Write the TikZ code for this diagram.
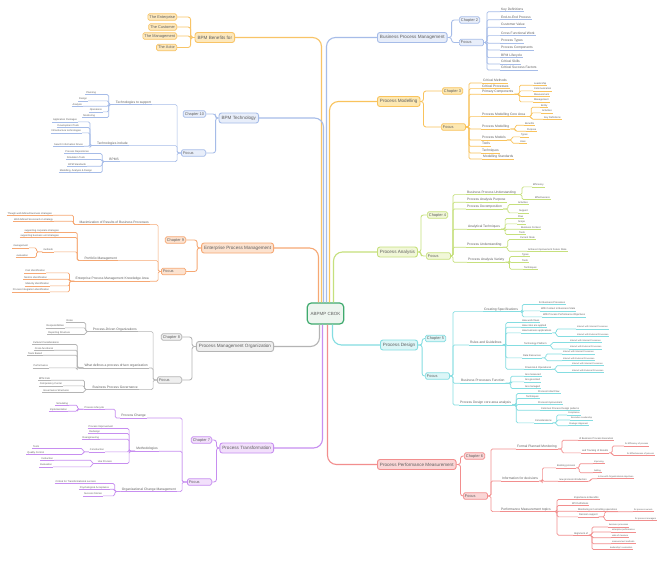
\documentclass[tikz,border=0pt]{standalone}
\usepackage{fontspec}
\setsansfont{Liberation Sans}
\definecolor{txt}{HTML}{5E5E5E}
\definecolor{bc}{HTML}{999999}
\definecolor{bf}{HTML}{EEEEEE}
\definecolor{cBlue}{HTML}{A6BCE8}\definecolor{fBlue}{HTML}{E8EEFA}
\definecolor{cOra}{HTML}{F8C467}\definecolor{fOra}{HTML}{FDE8BC}
\definecolor{cSal}{HTML}{F6A874}\definecolor{fSal}{HTML}{FCE2CF}
\definecolor{cGra}{HTML}{B4B4B4}\definecolor{fGra}{HTML}{EFEFEF}
\definecolor{cPur}{HTML}{C78EF0}\definecolor{fPur}{HTML}{F2E0FB}
\definecolor{cYel}{HTML}{F9C35C}\definecolor{fYel}{HTML}{FDE8B2}
\definecolor{cGrn}{HTML}{C6E07C}\definecolor{fGrn}{HTML}{F1F7D8}
\definecolor{cCya}{HTML}{84DDE1}\definecolor{fCya}{HTML}{DCF6F7}
\definecolor{cRed}{HTML}{F28E8E}\definecolor{fRed}{HTML}{FAD6D6}
\definecolor{cCen}{HTML}{3FAA6E}\definecolor{fCen}{HTML}{EDF5EF}
\tikzset{
 every node/.style={text=txt,font=\sffamily},
 mainbox/.style={draw=bc,fill=bf,rounded corners=2.5pt,line width=0.9pt,font=\sffamily\fontsize{4.6}{5}\selectfont,inner xsep=2.5pt,inner ysep=0pt,minimum height=10pt},
 subbox/.style={draw=bc,fill=bf,rounded corners=1.5pt,line width=0.7pt,font=\sffamily\fontsize{3.9}{4.2}\selectfont,inner xsep=1.6pt,inner ysep=0pt,minimum height=6.5pt},
 focusbox/.style={subbox,text width=21pt,align=left},
 ulin/.style={append after command={(\tikzlastnode.south west) edge[draw=bc,line width=0.7pt] (\tikzlastnode.south east)}},
 tA/.style={ulin,font=\sffamily\fontsize{3.3}{3.6}\selectfont,inner xsep=1pt,inner ysep=0.6pt,text height=2.4pt,text depth=0.6pt},
 tB/.style={ulin,font=\sffamily\fontsize{2.5}{2.8}\selectfont,inner xsep=0.8pt,inner ysep=0.5pt,text height=1.85pt,text depth=0.45pt},
 tC/.style={ulin,font=\sffamily\fontsize{2.2}{2.5}\selectfont,inner xsep=0.8pt,inner ysep=0.5pt,text height=1.6pt,text depth=0.4pt},
 rA/.style={tA,anchor=west}, lA/.style={tA,anchor=east},
 rB/.style={tB,anchor=west}, lB/.style={tB,anchor=east},
 rC/.style={tC,anchor=west}, lC/.style={tC,anchor=east},
 conM/.style={draw=bc,line width=1.1pt,rounded corners=9pt},
 conS/.style={draw=bc,line width=0.85pt,rounded corners=2.5pt},
 conL/.style={draw=bc,line width=0.7pt,rounded corners=1.5pt},
}
\begin{document}
\begin{tikzpicture}[x=1pt,y=-1pt]
\useasboundingbox (0,0) rectangle (667,563);
\fill[white] (0,0) rectangle (667,563);

\node[draw=cCen,fill=fCen,line width=1.2pt,rounded corners=4pt,minimum width=35pt,minimum height=21pt,font=\sffamily\fontsize{4.5}{5}\selectfont] (c) at (325.5,313.5) {ABPMP CBOK};

%================ Business Process Management
\begin{scope}
\colorlet{bc}{cBlue}\colorlet{bf}{fBlue}
\node[mainbox,anchor=west] (bpm) at (377,37.5) {Business Process Management};
\node[subbox,anchor=west] (bpmch) at (459,20) {Chapter 2};
\node[focusbox,anchor=west] (bpmfo) at (459,42.5) {Focus};
\node[rA] (bpm1) at (500,9.5) {Key Definitions};
\node[rA] (bpm2) at (500,17.5) {End-to-End Process};
\node[rA] (bpm3) at (500,25) {Customer Value};
\node[rA] (bpm4) at (500,33.3) {Cross Functional Work};
\node[rA] (bpm5) at (500,41) {Process Types};
\node[rA] (bpm6) at (500,47.7) {Process Components};
\node[rA] (bpm7) at (500,55.3) {BPM Lifecycle};
\node[rA] (bpm8) at (500,61.7) {Critical Skills};
\node[rA] (bpm9) at (500,67.7) {Critical Success Factors};
\draw[conM] ([xshift=1pt]c.north) |- (bpm.west);
\draw[conS] (bpm.east) -- ++(4,0) |- (bpmch.west);
\draw[conS] (bpm.east) -- ++(4,0) |- (bpmfo.west);
\foreach \i in {1,...,9} {\draw[conL] (bpmfo.east) -- ++(3,0) |- (bpm\i.south west);}
\end{scope}

%================ Process Modelling
\begin{scope}
\colorlet{bc}{cYel}\colorlet{bf}{fYel}
\node[mainbox,anchor=west] (mod) at (377,101.5) {Process Modelling};
\node[subbox,anchor=west] (modch) at (442,91) {Chapter 3};
\node[focusbox,anchor=west] (modfo) at (441,127) {Focus};
\node[rA] (m1) at (482,80.7) {Critical Methods};
\node[rA] (m2) at (481,86.3) {Critical Processes};
\node[rA] (m3) at (481,92) {Primary Components};
\node[rA] (m4) at (481,114.3) {Process Modelling Core Area};
\node[rA] (m5) at (481,126.7) {Process Modelling};
\node[rA] (m6) at (481,137.7) {Process Models};
\node[rA] (m7) at (481,144) {Tools};
\node[rA] (m8) at (481,150.7) {Techniques};
\node[rA] (m9) at (482,156.7) {Modelling Standards};
\node[rB] (m3a) at (533,83.3) {Leadership};
\node[rB] (m3b) at (533,89) {Communication};
\node[rB] (m3c) at (533,94.7) {Measurement};
\node[rB] (m3d) at (533,100) {Management};
\node[rB] (m4a) at (540,105.3) {Entity};
\node[rB] (m4b) at (541,111) {Activities};
\node[rB] (m4c) at (543,117.3) {Key Definitions};
\node[rB] (m5a) at (524,123.3) {Benefits};
\node[rB] (m5b) at (526,129.3) {Purpose};
\node[rB] (m6a) at (520,135) {Types};
\node[rB] (m6b) at (519,141.3) {Uses};
\draw[conM] ([xshift=4pt]c.north) |- (mod.west);
\draw[conS] (mod.east) -- ++(3,0) |- (modch.west);
\draw[conS] (mod.east) -- ++(3,0) |- (modfo.west);
\foreach \i in {1,...,9} {\draw[conL] (modfo.east) -- ++(3,0) |- (m\i.south west);}
\foreach \n in {m3a,m3b,m3c,m3d} {\draw[conL] (m3.south east) -- ++(5,0) |- (\n.south west);}
\foreach \n in {m4a,m4b,m4c} {\draw[conL] (m4.south east) -- ++(5,0) |- (\n.south west);}
\foreach \n in {m5a,m5b} {\draw[conL] (m5.south east) -- ++(5,0) |- (\n.south west);}
\foreach \n in {m6a,m6b} {\draw[conL] (m6.south east) -- ++(5,0) |- (\n.south west);}
\end{scope}

%================ Process Analysis
\begin{scope}
\colorlet{bc}{cGrn}\colorlet{bf}{fGrn}
\node[mainbox,anchor=west] (ana) at (377,252) {Process Analysis};
\node[subbox,anchor=west] (anach) at (427,215) {Chapter 4};
\node[focusbox,anchor=west] (anafo) at (426,256) {Focus};
\node[rA] (a1) at (466,192.3) {Business Process Understanding};
\node[rA] (a2) at (466,200) {Process Analysis Purpose};
\node[rA] (a3) at (466,206.7) {Process Decomposition};
\node[rA] (a4) at (467,227) {Analytical Techniques};
\node[rA] (a5) at (466,245) {Process Understanding};
\node[rA] (a6) at (467,260) {Process Analysis Variety};
\node[rB] (a1a) at (532,185) {Efficiency};
\node[rB] (a1b) at (534,197.7) {Effectiveness};
\node[rB] (a3a) at (517,202.7) {Activities};
\node[rB] (a3b) at (518,211) {Support};
\node[rB] (a4a) at (517,216.7) {Flow};
\node[rB] (a4b) at (517,222) {Scope};
\node[rB] (a4c) at (520,227.3) {Business Context};
\node[rB] (a4d) at (518,232.7) {Tools};
\node[rB] (a5a) at (519,237.7) {Current State};
\node[rB] (a5b) at (527,249.3) {Achieve Improvement Future State};
\node[rB] (a6a) at (521,254.7) {Types};
\node[rB] (a6b) at (521,260.7) {Tools};
\node[rB] (a6c) at (523,267.3) {Techniques};
\draw[conM] ([xshift=8pt]c.north) |- (ana.west);
\draw[conS] (ana.east) -- ++(3,0) |- (anach.west);
\draw[conS] (ana.east) -- ++(3,0) |- (anafo.west);
\foreach \i in {1,...,6} {\draw[conL] (anafo.east) -- ++(2,0) |- (a\i.south west);}
\foreach \n in {a1a,a1b} {\draw[conL] (a1.south east) -- ++(5,0) |- (\n.south west);}
\foreach \n in {a3a,a3b} {\draw[conL] (a3.south east) -- ++(5,0) |- (\n.south west);}
\foreach \n in {a4a,a4b,a4c,a4d} {\draw[conL] (a4.south east) -- ++(4,0) |- (\n.south west);}
\foreach \n in {a5a,a5b} {\draw[conL] (a5.south east) -- ++(5,0) |- (\n.south west);}
\foreach \n in {a6a,a6b,a6c} {\draw[conL] (a6.south east) -- ++(4,0) |- (\n.south west);}
\end{scope}

%================ Process Design
\begin{scope}
\colorlet{bc}{cCya}\colorlet{bf}{fCya}
\node[mainbox,anchor=west] (des) at (380,345) {Process Design};
\node[subbox,anchor=west] (desch) at (425,338.5) {Chapter 5};
\node[focusbox,anchor=west] (desfo) at (425,376) {Focus};
\node[rA] (d1) at (483,309.3) {Creating Specifications};
\node[rA] (d2) at (469,342.7) {Rules and Guidelines};
\node[rA] (d3) at (460,381) {Business Processes Function};
\node[rA] (d4) at (459,402.7) {Process Design core area analysis};
\node[rB] (d1a) at (538,302.7) {for Business Processes};
\node[rB] (d1b) at (540,309) {With Context in Business State};
\node[rB] (d1c) at (542,315) {With Process Performance Objectives};
\node[rB] (d2a) at (521,320.7) {How work flows};
\node[rB] (d2b) at (521,325.3) {How roles are applied};
\node[rB] (d2c) at (521,331) {How business applications};
\node[rB] (d2d) at (523,343.7) {Technology Platform};
\node[rB] (d2e) at (522,356) {Data Resources};
\node[rB] (d2f) at (524,367.3) {Financial \& Operational};
\node[rC] (d2c1) at (576,327.3) {Interact with Internal Processes};
\node[rC] (d2c2) at (576,334.7) {Interact with External Processes};
\node[rC] (d2d1) at (569,340.7) {Interact with Internal Processes};
\node[rC] (d2d2) at (569,347.3) {Interact with External Processes};
\node[rC] (d2e1) at (562,352.3) {Interact with Internal Processes};
\node[rC] (d2e2) at (562,359) {Interact with External Processes};
\node[rC] (d2f1) at (571,364) {Interact with Internal Processes};
\node[rC] (d2f2) at (571,370.7) {Interact with External Processes};
\node[rB] (d3a) at (524,374.3) {Are measured};
\node[rB] (d3b) at (524,380) {Are governed};
\node[rB] (d3c) at (524,386.7) {Are managed};
\node[rB] (d4a) at (537,391.7) {Process Initial Flow};
\node[rB] (d4b) at (525,396.7) {Techniques};
\node[rB] (d4c) at (537,402.7) {Process Improvement};
\node[rB] (d4d) at (540,408.3) {Common Process Design patterns};
\node[rB] (d4e) at (534,421) {Considerations};
\node[rC] (d4e1) at (567,413.3) {Compliance};
\node[rC] (d4e2) at (570,418.3) {Executive Leadership};
\node[rC] (d4e3) at (568,424) {Strategic Alignment};
\draw[conM] ([xshift=7pt]c.south) |- (des.west);
\draw[conS] (des.east) -- ++(4,0) |- (desch.west);
\draw[conS] (des.east) -- ++(4,0) |- (desfo.west);
\foreach \i in {1,...,4} {\draw[conL] (desfo.east) -- ++(3,0) |- (d\i.south west);}
\foreach \n in {d1a,d1b,d1c} {\draw[conL] (d1.south east) -- ++(3,0) |- (\n.south west);}
\foreach \n in {d2a,d2b,d2c,d2d,d2e,d2f} {\draw[conL] (d2.south east) -- ++(3,0) |- (\n.south west);}
\foreach \n in {d2c1,d2c2} {\draw[conL] (d2c.south east) -- ++(4,0) |- (\n.south west);}
\foreach \n in {d2d1,d2d2} {\draw[conL] (d2d.south east) -- ++(4,0) |- (\n.south west);}
\foreach \n in {d2e1,d2e2} {\draw[conL] (d2e.south east) -- ++(4,0) |- (\n.south west);}
\foreach \n in {d2f1,d2f2} {\draw[conL] (d2f.south east) -- ++(4,0) |- (\n.south west);}
\foreach \n in {d3a,d3b,d3c} {\draw[conL] (d3.south east) -- ++(5,0) |- (\n.south west);}
\foreach \n in {d4a,d4b,d4c,d4d,d4e} {\draw[conL] (d4.south east) -- ++(4,0) |- (\n.south west);}
\foreach \n in {d4e1,d4e2,d4e3} {\draw[conL] (d4e.south east) -- ++(4,0) |- (\n.south west);}
\end{scope}

%================ Process Performance Measurement
\begin{scope}
\colorlet{bc}{cRed}\colorlet{bf}{fRed}
\node[mainbox,anchor=west] (per) at (377,464.5) {Process Performance Measurement};
\node[subbox,anchor=west] (perch) at (464,456) {Chapter 6};
\node[focusbox,anchor=west] (perfo) at (463,496) {Focus};
\node[rA] (p1) at (516,446.7) {Formal Planned Monitoring};
\node[rA] (p2) at (501,478.7) {Information for decisions};
\node[rA] (p3) at (500,509.3) {Performance Measurement topics};
\node[rB] (p1a) at (578,438.3) {of Business Process Execution};
\node[rB] (p1b) at (581,451) {and Tracking of Results};
\node[rC] (p1b1) at (624,444.3) {for Efficiency of process};
\node[rC] (p1b2) at (626,453.7) {for Effectiveness of process};
\node[rB] (p2a) at (556,466) {Existing process};
\node[rB] (p2b) at (558,479.3) {new process introduction};
\node[rC] (p2a1) at (593,462) {Improving};
\node[rC] (p2a2) at (593,471) {Adding};
\node[rC] (p2b1) at (597,477) {in line with Organizational objectives};
\node[rB] (p3a) at (573,497.7) {Importance \& Benefits};
\node[rB] (p3b) at (571,503.7) {KPI Definitions};
\node[rB] (p3c) at (577,509.3) {Monitoring \& Controlling operations};
\node[rB] (p3d) at (578,515) {Decision support};
\node[rB] (p3e) at (573,533.3) {Alignment of};
\node[rC] (p3d1) at (633,510) {for process owners};
\node[rC] (p3d2) at (634,518.7) {for process managers};
\node[rC] (p3e1) at (608,525.3) {business processes};
\node[rC] (p3e2) at (611,530.3) {enterprise performance};
\node[rC] (p3e3) at (611,536) {wide of measure};
\node[rC] (p3e4) at (611,542) {measurement methods};
\node[rC] (p3e5) at (609,547.7) {leadership's evaluation};
\draw[conM] ([xshift=2pt]c.south) |- (per.west);
\draw[conS] (per.east) -- ++(4,0) |- (perch.west);
\draw[conS] (per.east) -- ++(4,0) |- (perfo.west);
\foreach \i in {1,...,3} {\draw[conL] (perfo.east) -- ++(3,0) |- (p\i.south west);}
\foreach \n in {p1a,p1b} {\draw[conL] (p1.south east) -- ++(4,0) |- (\n.south west);}
\foreach \n in {p1b1,p1b2} {\draw[conL] (p1b.south east) -- ++(3,0) |- (\n.south west);}
\foreach \n in {p2a,p2b} {\draw[conL] (p2.south east) -- ++(3,0) |- (\n.south west);}
\foreach \n in {p2a1,p2a2} {\draw[conL] (p2a.south east) -- ++(3,0) |- (\n.south west);}
\draw[conL] (p2b.south east) -- ++(3,0) |- (p2b1.south west);
\foreach \n in {p3a,p3b,p3c,p3d,p3e} {\draw[conL] (p3.south east) -- ++(5,0) |- (\n.south west);}
\foreach \n in {p3d1,p3d2} {\draw[conL] (p3d.south east) -- ++(6,0) |- (\n.south west);}
\foreach \n in {p3e1,p3e2,p3e3,p3e4,p3e5} {\draw[conL] (p3e.south east) -- ++(3,0) |- (\n.south west);}
\end{scope}

%================ BPM Benefits for
\begin{scope}
\colorlet{bc}{cOra}\colorlet{bf}{fOra}
\node[mainbox,anchor=east] (ben) at (235,37.5) {BPM Benefits for};
\node[subbox,anchor=east] (ben1) at (177,17) {The Enterprise};
\node[subbox,anchor=east] (ben2) at (177,27) {The Customer};
\node[subbox,anchor=east] (ben3) at (177,36) {The Management};
\node[subbox,anchor=east] (ben4) at (177,47.5) {The Actor};
\draw[conM] ([xshift=-4pt]c.north) |- (ben.east);
\foreach \i in {1,...,4} {\draw[conS] (ben.west) -- ++(-4,0) |- (ben\i.east);}
\end{scope}

%================ BPM Technology
\begin{scope}
\colorlet{bc}{cBlue}\colorlet{bf}{fBlue}
\node[mainbox,anchor=east] (tec) at (259,118) {BPM Technology};
\node[subbox,anchor=east] (tecch) at (206,114) {Chapter 10};
\node[focusbox,anchor=east] (tecfo) at (206,153) {Focus};
\node[lA] (t1) at (152,102.3) {Technologies to support};
\node[lA] (t2) at (129,143.3) {Technologies include};
\node[lA] (t3) at (120,159.3) {BPMS};
\node[lB] (t1a) at (97,92.7) {Planning};
\node[lB] (t1b) at (88,99) {Design};
\node[lB] (t1c) at (83,104.3) {Analysis};
\node[lB] (t1d) at (103,110) {Operations};
\node[lB] (t1e) at (96,115.7) {Monitoring};
\node[lB] (t2a) at (78,120) {Application Packages};
\node[lB] (t2b) at (80,125.7) {Development Tools};
\node[lB] (t2c) at (82,131) {Infrastructure technologies};
\node[lB] (t2d) at (84,144.3) {Search Information Drives};
\node[lB] (t3a) at (90,151.7) {Process Repositories};
\node[lB] (t3b) at (86,157.7) {Simulation Tools};
\node[lB] (t3c) at (87,164.3) {BPM Standards};
\node[lB] (t3d) at (93,170.7) {Modelling, Analysis \& Design};
\draw[conM] ([xshift=-2pt]c.north) |- (tec.east);
\draw[conS] (tec.west) -- ++(-3,0) |- (tecch.east);
\draw[conS] (tec.west) -- ++(-3,0) |- (tecfo.east);
\foreach \i in {1,...,3} {\draw[conL] (tecfo.west) -- ++(-4,0) |- (t\i.south east);}
\foreach \n in {t1a,t1b,t1c,t1d,t1e} {\draw[conL] (t1.south west) -- ++(-6,0) |- (\n.south east);}
\foreach \n in {t2a,t2b,t2c,t2d} {\draw[conL] (t2.south west) -- ++(-6,0) |- (\n.south east);}
\foreach \n in {t3a,t3b,t3c,t3d} {\draw[conL] (t3.south west) -- ++(-6,0) |- (\n.south east);}
\end{scope}

%================ Enterprise Process Management
\begin{scope}
\colorlet{bc}{cSal}\colorlet{bf}{fSal}
\node[mainbox,anchor=east] (epm) at (274,248) {Enterprise Process Management};
\node[subbox,anchor=east] (epmch) at (186,240) {Chapter 9};
\node[focusbox,anchor=east] (epmfo) at (186,271.5) {Focus};
\node[lA] (e1) at (150,222.3) {Maximization of Results of Business Processes};
\node[lA] (e2) at (118,258.3) {Portfolio Management};
\node[lA] (e3) at (150,279) {Enterprise Process Management Knowledge Area};
\node[lB] (e1a) at (53,213.3) {Though well defined business strategies};
\node[lB] (e1b) at (54,219.3) {Well defined Scorecard on strategy};
\node[lB] (e2a) at (60,230.7) {supporting corporate strategies};
\node[lB] (e2b) at (60,235.7) {supporting business unit strategies};
\node[lB] (e2c) at (54,250) {methods};
\node[lB] (e2c1) at (29,246) {management};
\node[lB] (e2c2) at (29,255.7) {evaluation};
\node[lB] (e3a) at (46,271) {Cost identification};
\node[lB] (e3b) at (48,277.3) {Metrics identification};
\node[lB] (e3c) at (50,284) {Maturity identification};
\node[lB] (e3d) at (50,290) {Process Integration identification};
\draw[conM] ([xshift=-7pt]c.north) |- (epm.east);
\draw[conS] (epm.west) -- ++(-4,0) |- (epmch.east);
\draw[conS] (epm.west) -- ++(-4,0) |- (epmfo.east);
\foreach \i in {1,...,3} {\draw[conL] (epmfo.west) -- ++(-3,0) |- (e\i.south east);}
\foreach \n in {e1a,e1b} {\draw[conL] (e1.south west) -- ++(-5,0) |- (\n.south east);}
\foreach \n in {e2a,e2b,e2c} {\draw[conL] (e2.south west) -- ++(-6,0) |- (\n.south east);}
\foreach \n in {e2c1,e2c2} {\draw[conL] (e2c.south west) -- ++(-6,0) |- (\n.south east);}
\foreach \n in {e3a,e3b,e3c,e3d} {\draw[conL] (e3.south west) -- ++(-5,0) |- (\n.south east);}
\end{scope}

%================ Process Management Organization
\begin{scope}
\colorlet{bc}{cGra}\colorlet{bf}{fGra}
\node[mainbox,anchor=east] (pmo) at (274,346.5) {Process Management Organization};
\node[subbox,anchor=east] (pmoch) at (182,337) {Chapter 8};
\node[focusbox,anchor=east] (pmofo) at (182,380) {Focus};
\node[lA] (o1) at (138,329.3) {Process-Driven Organizations};
\node[lA] (o2) at (149,365.7) {What defines a process driven organization};
\node[lA] (o3) at (139,387.3) {Business Process Governance};
\node[lB] (o1a) at (74,320.7) {Roles};
\node[lB] (o1b) at (65,326) {Responsibilities};
\node[lB] (o1c) at (71,332.7) {Reporting Structure};
\node[lB] (o2a) at (60,342.7) {Cultural Considerations};
\node[lB] (o2b) at (54,348.3) {Cross-functional};
\node[lB] (o2c) at (43,353.3) {Team Based};
\node[lB] (o2d) at (49,366) {Performance};
\node[lB] (o3a) at (51,378.3) {BPM CoE};
\node[lB] (o3b) at (63,384) {Competency Center};
\node[lB] (o3c) at (70,390.7) {Governance Structures};
\draw[conM] ([xshift=-6pt]c.south) |- (pmo.east);
\draw[conS] (pmo.west) -- ++(-4,0) |- (pmoch.east);
\draw[conS] (pmo.west) -- ++(-4,0) |- (pmofo.east);
\foreach \i in {1,...,3} {\draw[conL] (pmofo.west) -- ++(-4,0) |- (o\i.south east);}
\foreach \n in {o1a,o1b,o1c} {\draw[conL] (o1.south west) -- ++(-6,0) |- (\n.south east);}
\foreach \n in {o2a,o2b,o2c,o2d} {\draw[conL] (o2.south west) -- ++(-6,0) |- (\n.south east);}
\foreach \n in {o3a,o3b,o3c} {\draw[conL] (o3.south west) -- ++(-7,0) |- (\n.south east);}
\end{scope}

%================ Process Transformation
\begin{scope}
\colorlet{bc}{cPur}\colorlet{bf}{fPur}
\node[mainbox,anchor=east] (trf) at (274,448) {Process Transformation};
\node[subbox,anchor=east] (trfch) at (212,440) {Chapter 7};
\node[focusbox,anchor=east] (trffo) at (212,482) {Focus};
\node[lA] (r1) at (147,415.7) {Process Change};
\node[lA] (r2) at (159,449) {Methodologies};
\node[lA] (r3) at (177,489.3) {Organizational Change Management};
\node[lB] (r1a) at (105,407.3) {Process Lifecycle};
\node[lB] (r1a1) at (69,403.3) {Simulating};
\node[lB] (r1a2) at (68,409.3) {Implementation};
\node[lB] (r2a) at (114,426.7) {Process Improvement};
\node[lB] (r2b) at (101,431.7) {Redesign};
\node[lB] (r2c) at (100,437.3) {Reengineering};
\node[lB] (r2d) at (105,450) {Construction};
\node[lB] (r2e) at (113,461.7) {Use Process};
\node[lB] (r2d1) at (40,446.7) {Tests};
\node[lB] (r2d2) at (45,452.7) {Quality Control};
\node[lB] (r2e1) at (54,458.3) {Instruction};
\node[lB] (r2e2) at (53,465) {Evaluation};
\node[lB] (r3a) at (97,481.7) {Critical for Transformational success};
\node[lB] (r3b) at (110,487.3) {Psychological Acceptance};
\node[lB] (r3c) at (103,494) {Success Stories};
\draw[conM] ([xshift=-3pt]c.south) |- (trf.east);
\draw[conS] (trf.west) -- ++(-3,0) |- (trfch.east);
\draw[conS] (trf.west) -- ++(-3,0) |- (trffo.east);
\foreach \i in {1,...,3} {\draw[conL] (trffo.west) -- ++(-5,0) |- (r\i.south east);}
\draw[conL] (r1.south west) -- ++(-5,0) |- (r1a.south east);
\foreach \n in {r1a1,r1a2} {\draw[conL] (r1a.south west) -- ++(-6,0) |- (\n.south east);}
\foreach \n in {r2a,r2b,r2c,r2d,r2e} {\draw[conL] (r2.south west) -- ++(-6,0) |- (\n.south east);}
\foreach \n in {r2d1,r2d2} {\draw[conL] (r2d.south west) -- ++(-6,0) |- (\n.south east);}
\foreach \n in {r2e1,r2e2} {\draw[conL] (r2e.south west) -- ++(-5,0) |- (\n.south east);}
\foreach \n in {r3a,r3b,r3c} {\draw[conL] (r3.south west) -- ++(-6,0) |- (\n.south east);}
\end{scope}
\end{tikzpicture}
\end{document}
